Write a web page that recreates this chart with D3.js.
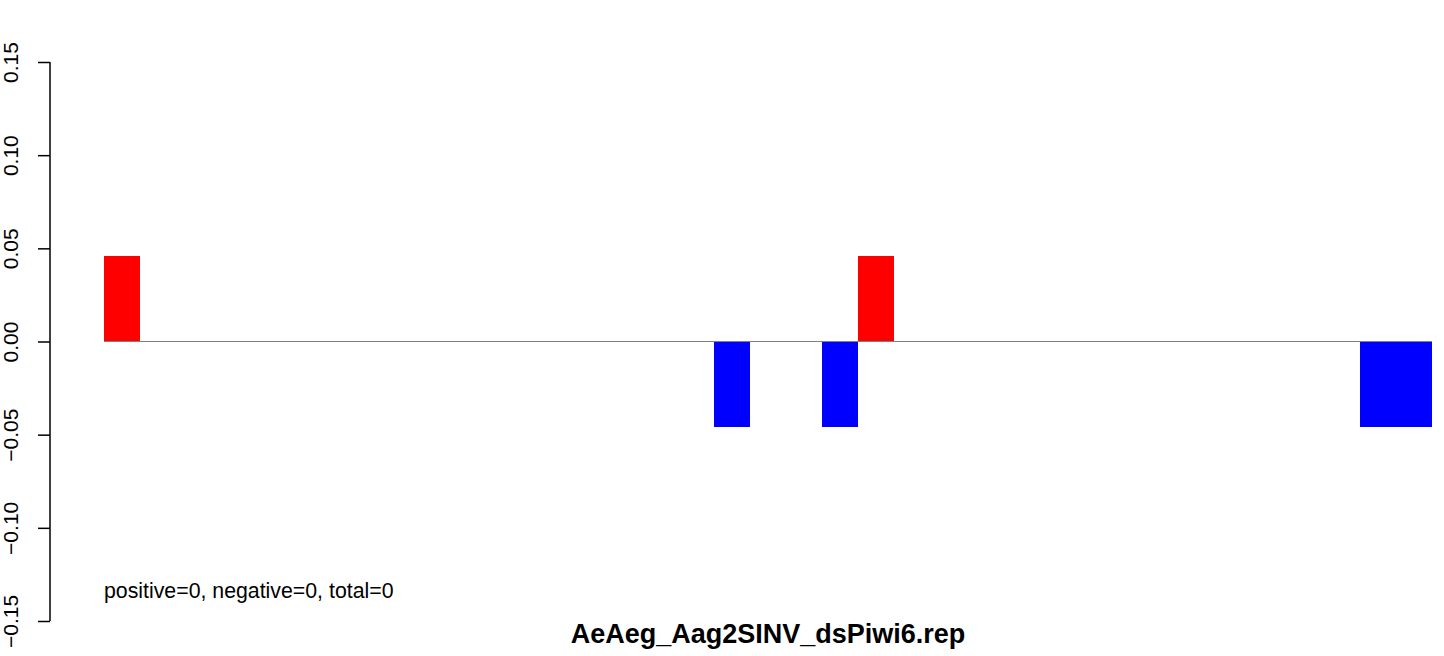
<!DOCTYPE html>
<html>
<head>
<meta charset="utf-8">
<script src="https://cdn.jsdelivr.net/npm/d3@7"></script>
<style>
  html, body { margin: 0; padding: 0; background: #fff; }
  svg { display: block; }
  text { font-family: "Liberation Sans", Arial, Helvetica, sans-serif; }
</style>
</head>
<body>
<svg id="chart" width="1444" height="656"></svg>
<script>
// ---- data ----
const binStarts = [0, 16.94, 19.94, 20.94, 34.89, 35.89];
const binWidths = [1, 1, 1, 1, 1, 1];
const binValues = [0.0458, -0.0458, -0.0458, 0.0458, -0.0458, -0.0458];
const xDomain = [0, 36.89];
const yDomain = [-0.15, 0.15];
const yTicks = [-0.15, -0.10, -0.05, 0.00, 0.05, 0.10, 0.15];
const yTickLabels = ["\u22120.15", "\u22120.10", "\u22120.05", "0.00", "0.05", "0.10", "0.15"];
const title = "AeAeg_Aag2SINV_dsPiwi6.rep";
const note = "positive=0, negative=0, total=0";

// ---- layout ----
const svg = d3.select("#chart");
const x = d3.scaleLinear().domain(xDomain).range([104, 1432]);
const y = d3.scaleLinear().domain(yDomain).range([621, 62]);

// bars
svg.append("g").selectAll("rect")
  .data(binStarts.map((s, i) => ({ s, w: binWidths[i], v: binValues[i] })))
  .join("rect")
  .attr("x", d => x(d.s))
  .attr("width", d => x(d.s + d.w) - x(d.s))
  .attr("y", d => Math.min(y(d.v), y(0)))
  .attr("height", d => Math.abs(y(d.v) - y(0)))
  .attr("fill", d => d.v >= 0 ? "#ff0000" : "#0000ff")
  .attr("shape-rendering", "crispEdges");

// zero line
svg.append("line")
  .attr("x1", x(xDomain[0])).attr("x2", x(xDomain[1]))
  .attr("y1", y(0)).attr("y2", y(0))
  .attr("stroke", "#808080").attr("stroke-width", 1.2);

// y axis
const yAxis = d3.axisLeft(y)
  .tickValues(yTicks)
  .tickFormat((d, i) => yTickLabels[i])
  .tickSize(12)
  .tickSizeOuter(0)
  .tickPadding(0);
const gy = svg.append("g").attr("transform", "translate(50,0)").call(yAxis);
gy.select(".domain").attr("stroke", "#000").attr("stroke-width", 1.5)
  .attr("d", `M0,${y(yDomain[1])}V${y(yDomain[0])}`);
gy.selectAll(".tick line").attr("stroke", "#000").attr("stroke-width", 1.5);
gy.selectAll(".tick text")
  .attr("x", 0).attr("y", 0).attr("dy", null)
  .attr("transform", "translate(-32,0) rotate(-90)")
  .attr("text-anchor", "middle")
  .attr("fill", "#000")
  .style("font-size", "21px");

// note text
svg.append("text")
  .attr("x", 104).attr("y", 598)
  .style("font-size", "21.3px")
  .attr("fill", "#000")
  .text(note);

// title
svg.append("text")
  .attr("x", (x(xDomain[0]) + x(xDomain[1])) / 2).attr("y", 643)
  .attr("text-anchor", "middle")
  .style("font-size", "27px").style("font-weight", "bold")
  .attr("fill", "#000")
  .text(title);
</script>
</body>
</html>
